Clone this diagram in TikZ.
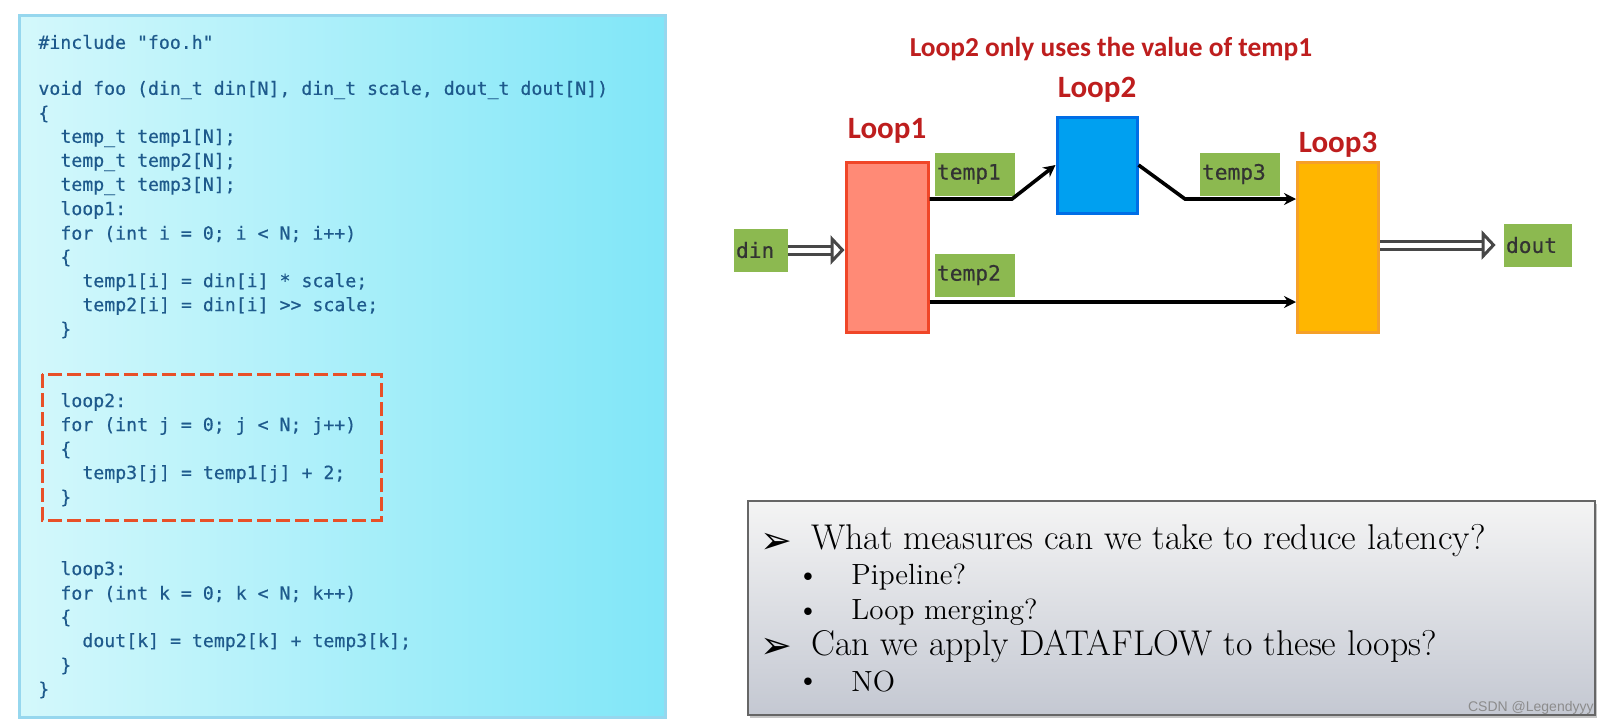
\documentclass[tikz,border=0pt]{standalone}
\usepackage{fontspec}
\newfontfamily\codefont[FakeBold=0.5]{DejaVu Sans Mono}
\newfontfamily\labelfont{Carlito}
\newfontfamily\symbolfont{DejaVu Sans}
\newfontfamily\wmfont{Liberation Sans}
\usetikzlibrary{positioning, arrows.meta, shadows}
\definecolor{codeblue}{RGB}{30,90,140}
\definecolor{panelL}{RGB}{212,248,251}
\definecolor{panelR}{RGB}{128,230,248}
\definecolor{panelrim}{RGB}{150,215,238}
\definecolor{dashred}{RGB}{232,80,40}
\definecolor{titlered}{RGB}{190,30,30}
\definecolor{lonefill}{RGB}{255,138,118}
\definecolor{lonerim}{RGB}{240,70,40}
\definecolor{ltwofill}{RGB}{0,160,240}
\definecolor{ltworim}{RGB}{0,110,230}
\definecolor{lthreefill}{RGB}{255,182,0}
\definecolor{lthreerim}{RGB}{245,160,40}
\definecolor{tagfill}{RGB}{140,185,80}
\definecolor{notetop}{RGB}{244,244,244}
\definecolor{notebot}{RGB}{196,200,210}

\begin{document}
\begin{tikzpicture}[x=0.5pt, y=-0.5pt,
	code/.style={anchor=west, inner sep=0pt, text=codeblue, font=\codefont\fontsize{9.1}{12}\selectfont},
	loopbox/.style={draw, line width=1.5pt, inner sep=0pt, drop shadow={shadow xshift=0.8pt, shadow yshift=-1.2pt, opacity=0.3}},
	looplabel/.style={inner sep=0pt, text=titlered, font=\labelfont\bfseries\fontsize{15.5}{18}\selectfont},
	tag/.style={fill=tagfill, inner xsep=1pt, inner ysep=0pt, text width=38pt, minimum height=21.5pt, text=black!80, font=\codefont\fontsize{10.6}{12}\selectfont},
	flow/.style={line width=1.8pt, -{Stealth[length=6pt, width=6pt]}},
	bigflow/.style={draw=black!72, line width=1.5pt, double=white, double distance=2.5pt, -{Triangle[open, fill=white, length=7pt, width=14.5pt, line width=1.5pt]}},
	note/.style={anchor=west, inner sep=0pt, font=\fontsize{17.9}{21}\selectfont},
	subnote/.style={anchor=west, inner sep=0pt, font=\fontsize{14.6}{17}\selectfont},
	bullet/.style={inner sep=0pt, font=\fontsize{14}{16}\selectfont},
	pointer/.style={inner sep=0pt, font=\symbolfont\fontsize{19}{21}\selectfont}]
\useasboundingbox (0,0) rectangle (1611,724);
\fill[white] (0,0) rectangle (1611,724);

% code panel
\draw[panelrim, line width=1.5pt, left color=panelL, right color=panelR] (19,15) rectangle (665,717);
\draw[dashred, line width=1.5pt, dash pattern=on 7pt off 2.5pt] (42,374) rectangle (381,520);
\node[code] (ln1) at (38,42) {\#include "foo.h"};
\node[code] (ln3) at (38,90) {void foo (din\_t din[N], din\_t scale, dout\_t dout[N])};
\node[code] (ln4) at (38,114) {\{};
\node[code] (ln5) at (60,138) {temp\_t temp1[N];};
\node[code] (ln6) at (60,162) {temp\_t temp2[N];};
\node[code] (ln7) at (60,186) {temp\_t temp3[N];};
\node[code] (ln8) at (60,210) {loop1:};
\node[code] (ln9) at (60,234) {for (int i = 0; i < N; i++)};
\node[code] (ln10) at (60,258) {\{};
\node[code] (ln11) at (82,282) {temp1[i] = din[i] * scale;};
\node[code] (ln12) at (82,306) {temp2[i] = din[i] >> scale;};
\node[code] (ln13) at (60,330) {\}};
\node[code] (ln16) at (60,402) {loop2:};
\node[code] (ln17) at (60,426) {for (int j = 0; j < N; j++)};
\node[code] (ln18) at (60,450) {\{};
\node[code] (ln19) at (82,474) {temp3[j] = temp1[j] + 2;};
\node[code] (ln20) at (60,498) {\}};
\node[code] (ln23) at (60,570) {loop3:};
\node[code] (ln24) at (60,594) {for (int k = 0; k < N; k++)};
\node[code] (ln25) at (60,618) {\{};
\node[code] (ln26) at (82,642) {dout[k] = temp2[k] + temp3[k];};
\node[code] (ln27) at (60,666) {\}};
\node[code] (ln28) at (38,690) {\}};

% dataflow
\node[inner sep=0pt, text=titlered, font=\labelfont\bfseries\fontsize{13.7}{16}\selectfont] (title) at (1111,49) {Loop2 only uses the value of temp1};
\node[loopbox, fill=lonefill, draw=lonerim, minimum width=41pt, minimum height=85pt] (loop1) at (887,247) {};
\node[loopbox, fill=ltwofill, draw=ltworim, minimum width=40pt, minimum height=48pt] (loop2) at (1097,165) {};
\node[loopbox, fill=lthreefill, draw=lthreerim, minimum width=40.5pt, minimum height=85pt] (loop3) at (1338,247) {};
\node[looplabel, above=8.5pt of loop1] (loop1lbl) {Loop1};
\node[looplabel, above=6.5pt of loop2] (loop2lbl) {Loop2};
\node[looplabel, above=1.5pt of loop3] (loop3lbl) {Loop3};
\node[tag] (temp1) at (975,174) {temp1};
\node[tag] (temp3) at (1240,174) {temp3};
\node[tag] (temp2) at (975,275) {temp2};
\node[tag, text width=25pt] (din) at (761,250) {din};
\node[tag, text width=32pt] (dout) at (1538,245) {dout};
\coordinate (t1bend) at (1012,199);
\coordinate (t3bend) at (1185,199);
\coordinate (t2level) at (928,302);
\draw[flow] (loop1.east |- t1bend) -- (t1bend) -- (loop2.west);
\draw[flow] (loop2.east) -- (t3bend) -- (loop3.west |- t3bend);
\draw[flow] (loop1.east |- t2level) -- (loop3.west |- t2level);
\draw[bigflow] (din.east) -- (loop1.west |- din.east);
\draw[bigflow, shorten >=4pt] (loop3.east |- dout.west) -- (dout.west);

% questions
\node[draw=black!60, line width=1pt, top color=notetop, bottom color=notebot, minimum width=423.5pt, minimum height=107pt, drop shadow={shadow xshift=1pt, shadow yshift=-1.5pt, opacity=0.45}] (notebox) at (1171.5,608) {};
\node[note] (q1) at (811,541) {What measures can we take to reduce latency?};
\node[subnote] (a1) at (851,577) {Pipeline?};
\node[subnote] (a2) at (851,612) {Loop merging?};
\node[note] (q2) at (811,646) {Can we apply DATAFLOW to these loops?};
\node[subnote] (a3) at (851,682) {NO};
\node[pointer] (arrq1) at (776,543) {➢};
\node[pointer] (arrq2) at (776,648) {➢};
\node[bullet] (dota1) at (808,578) {\textbullet};
\node[bullet] (dota2) at (808,613) {\textbullet};
\node[bullet] (dota3) at (808,683) {\textbullet};
\node[anchor=east, inner sep=0pt, text=black!45, font=\wmfont\fontsize{7}{8}\selectfont] (mark) at (1594,708) {CSDN @Legendyyy};
\end{tikzpicture}
\end{document}
